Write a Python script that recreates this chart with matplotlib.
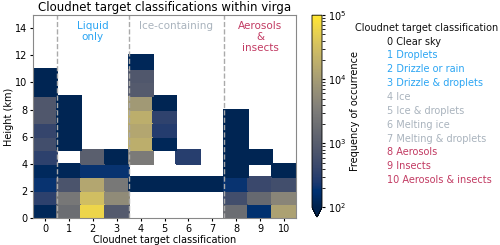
import numpy as np
import matplotlib
matplotlib.use("Agg")
import matplotlib.pyplot as plt
from matplotlib.colors import LogNorm

categories = list(range(11))
height_edges = list(range(16))  # km, 1-km bins 0..15

# counts per class (columns) per height bin (index = bin starting at 0 km); None = no data
col0 = [120, 330, 200, 130, 330, 560, 400, 800, 800, 110, 110]
col1 = [1800, 2700, 700, 120, None, 110, 110, 110, 110]
col2 = [60000, 30000, 14000, 200, 1100]
col3 = [900, 5500, 2800, 200, 110]
col4 = [None, None, 110, None, 3000, 18000, 14000, 18000, 9000, 900, 800, 120]
col5 = [None, None, 110, None, None, 120, 280, 350, 110]
col6 = [None, None, 110, None, 300]
col7 = [None, None, 110]
col8 = [1800, 550, 200, 110, 110, 110, 110, 110]
col9 = [170, 1600, 450, None, 110]
col10 = [12000, 4500, 550, 110]
columns = [col0, col1, col2, col3, col4, col5, col6, col7, col8, col9, col10]

class_names = ["0 Clear sky", "1 Droplets", "2 Drizzle or rain", "3 Drizzle & droplets",
               "4 Ice", "5 Ice & droplets", "6 Melting ice", "7 Melting & droplets",
               "8 Aerosols", "9 Insects", "10 Aerosols & insects"]
c_liquid = "#2ba5f3"
c_ice = "#a9b3bd"
c_aer = "#c23a62"
c_black = "#111111"
class_colors = [c_black] + [c_liquid]*3 + [c_ice]*4 + [c_aer]*3

nbins = len(height_edges) - 1
Z = np.full((nbins, len(categories)), np.nan)
for j, col in enumerate(columns):
    for i, v in enumerate(col):
        if v is not None:
            Z[i, j] = v
Zm = np.ma.masked_invalid(Z)

x_edges = np.arange(len(categories) + 1) - 0.5

fig = plt.figure(figsize=(5, 2.45), dpi=100)
ax = fig.add_axes([0.066, 0.11, 0.526, 0.83])
cmap = plt.get_cmap("cividis").copy()
mesh = ax.pcolormesh(x_edges, height_edges, Zm, cmap=cmap,
                     norm=LogNorm(vmin=1e2, vmax=1e5), edgecolors="face", linewidth=0.3)
for xv in [0.5, 3.5, 7.5]:
    ax.axvline(xv, color="#aaaaaa", ls="--", lw=1)
ax.set_xlim(-0.5, 10.5)
ax.set_ylim(0, 15)
ax.set_xticks(categories)
ax.set_yticks([0, 2, 4, 6, 8, 10, 12, 14])
ax.tick_params(labelsize=7, length=2.5, pad=1.5)
ax.set_xlabel("Cloudnet target classification", fontsize=7, labelpad=1)
ax.set_ylabel("Height (km)", fontsize=7, labelpad=1)
ax.set_title("Cloudnet target classifications within virga", fontsize=8.5, pad=3)
for s in ax.spines.values():
    s.set_color("#888888")

ax.text(2, 14.5, "Liquid\nonly", color=c_liquid, fontsize=7.5, ha="center", va="top", linespacing=1.1)
ax.text(5.5, 14.5, "Ice-containing", color=c_ice, fontsize=7.5, ha="center", va="top")
ax.text(9, 14.5, "Aerosols\n&\ninsects", color=c_aer, fontsize=7.5, ha="center", va="top", linespacing=1.1)

cax = fig.add_axes([0.624, 0.114, 0.02, 0.824])
cb = fig.colorbar(mesh, cax=cax, extend="min", extendfrac=0.05)
cb.ax.tick_params(labelsize=7, length=2.5, pad=1.5)
cb.set_label("Frequency of occurrence", fontsize=7, labelpad=3)
cb.outline.set_linewidth(0.6)

fig.text(0.71, 0.885, "Cloudnet target classification", fontsize=7, ha="left", va="center", color=c_black)
y0 = 0.83
dy = 0.0565
for k, (name, c) in enumerate(zip(class_names, class_colors)):
    fig.text(0.774, y0 - k*dy, name, fontsize=7, ha="left", va="center", color=c)

fig.savefig("out.png", dpi=100)
